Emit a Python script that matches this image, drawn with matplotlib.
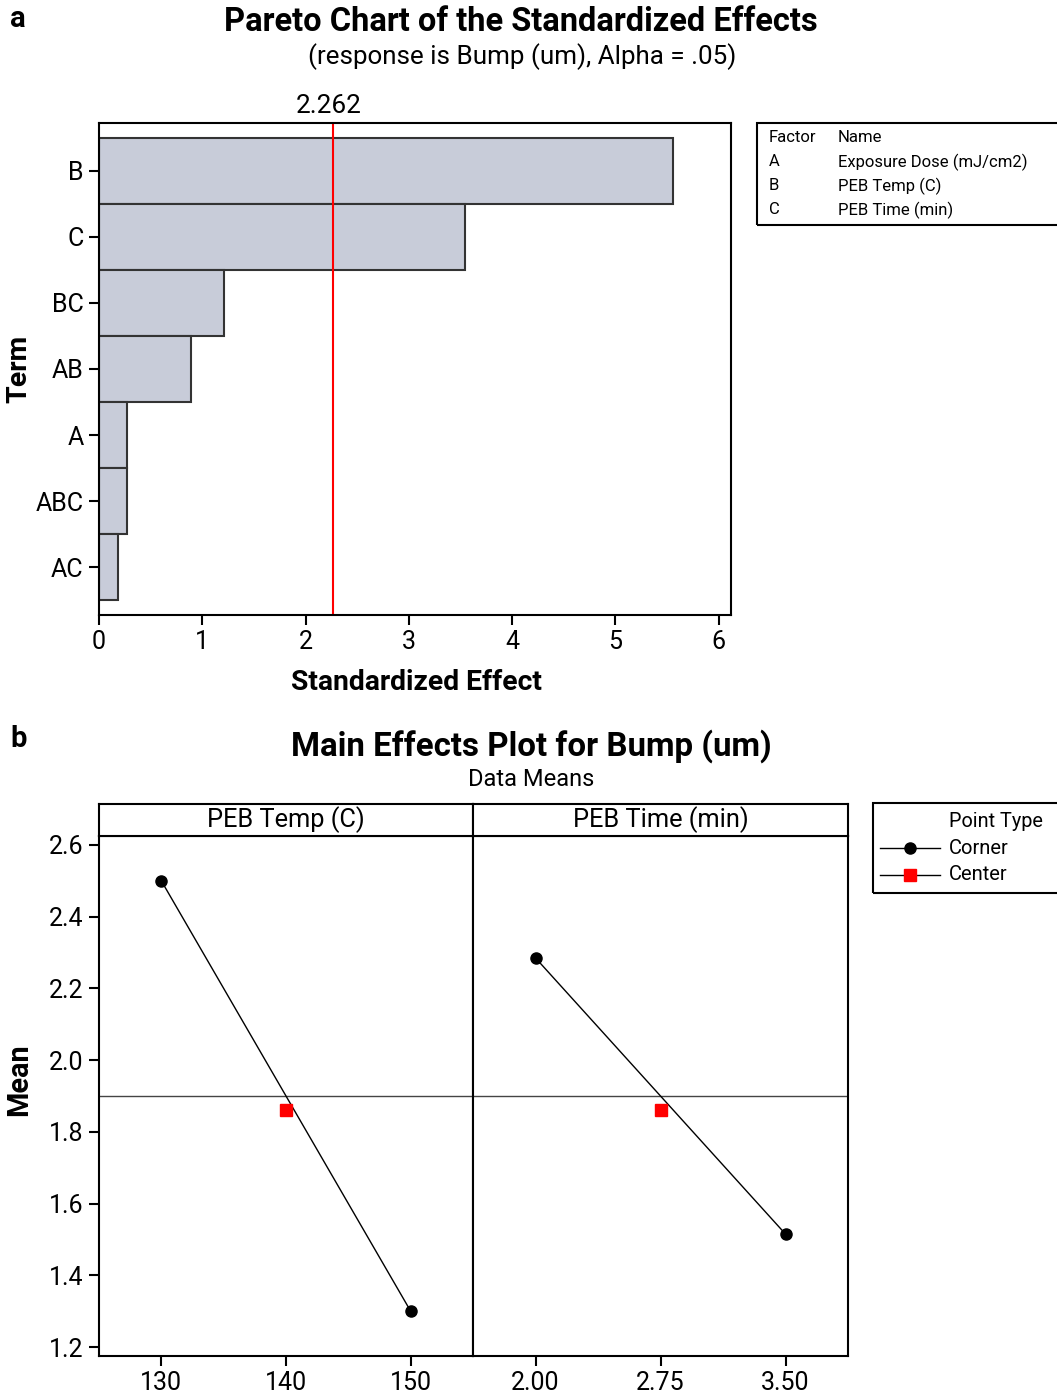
import matplotlib
matplotlib.use("Agg")
import matplotlib.pyplot as plt
from matplotlib.patches import Rectangle
from matplotlib.lines import Line2D

plt.rcParams['font.family'] = ['Roboto', 'DejaVu Sans']

# pareto data
terms = ['B', 'C', 'BC', 'AB', 'A', 'ABC', 'AC']
effects = [5.56, 3.54, 1.21, 0.89, 0.27, 0.27, 0.18]
t_crit = 2.262
factors = ['A', 'B', 'C']
factor_names = ['Exposure Dose (mJ/cm2)', 'PEB Temp (C)', 'PEB Time (min)']

# main effects data
temp_levels = [130, 150]
temp_means = [2.50, 1.30]
time_levels = [2.00, 3.50]
time_means = [2.285, 1.515]
temp_center = [140]
time_center = [2.75]
center_mean = [1.86]
grand_mean = 1.90

W, H = 1057, 1395
fig = plt.figure(figsize=(W / 100, H / 100), dpi=100)


def box(l, t, r, b):
    return [l / W, 1 - b / H, (r - l) / W, (b - t) / H]


def fx(x):
    return x / W


def fy(y):
    return 1 - y / H


TICK = 18

# ---- panel a ----
fig.text(fx(10), fy(19), 'a', fontsize=21, fontweight='bold', va='center')
fig.text(fx(521), fy(22), 'Pareto Chart of the Standardized Effects',
         fontsize=23.5, fontweight='bold', ha='center', va='center')
fig.text(fx(522), fy(57), '(response is Bump (um), Alpha = .05)',
         fontsize=18.7, ha='center', va='center')

ax = fig.add_axes(box(99, 123, 731, 615))
ax.barh(range(len(terms)), effects, height=1.0, color='#c8ccd9',
        edgecolor='#333333', linewidth=1.5)
ax.axvline(t_crit, color='red', lw=1.5)
ax.set_xlim(0, 6.12)
ax.set_ylim(len(terms) - 0.273, -0.727)
ax.set_yticks(range(len(terms)))
ax.set_yticklabels(terms)
ax.set_xticks(range(7))
ax.tick_params(direction='out', length=7, width=1.5, labelsize=TICK, pad=4)
ax.text(t_crit - 0.04, 1.01, '%.3f' % t_crit, transform=ax.get_xaxis_transform(),
        ha='center', va='bottom', fontsize=18.8)
for s in ax.spines.values():
    s.set_linewidth(1.5)
fig.text(fx(416), fy(683), 'Standardized Effect', fontsize=20.3, fontweight='bold',
         ha='center', va='center')
fig.text(fx(19), fy(369), 'Term', fontsize=20.5, fontweight='bold',
         ha='center', va='center', rotation=90)

# factor table
fig.patches.append(Rectangle((fx(757), fy(225)), fx(1080) - fx(757), fy(123) - fy(225),
                             transform=fig.transFigure, fill=False,
                             edgecolor='black', lw=1.5))
fig.text(fx(769), fy(138), 'Factor', fontsize=12, va='center')
fig.text(fx(838), fy(138), 'Name', fontsize=12, va='center')
for i, (f, n) in enumerate(zip(factors, factor_names)):
    fig.text(fx(769), fy(162 + 24 * i), f, fontsize=12, va='center')
    fig.text(fx(838), fy(162 + 24 * i), n, fontsize=12, va='center')

# ---- panel b ----
fig.text(fx(10), fy(739), 'b', fontsize=21, fontweight='bold', va='center')
fig.text(fx(531), fy(746), 'Main Effects Plot for Bump (um)',
         fontsize=23.8, fontweight='bold', ha='center', va='center')
fig.text(fx(531), fy(780), 'Data Means', fontsize=17, ha='center', va='center')

axL = fig.add_axes(box(99, 836, 473, 1356))
axR = fig.add_axes(box(473, 836, 848, 1356))

axL.plot(temp_levels, temp_means, color='black', lw=1, marker='o', ms=8)
axL.plot(temp_center, center_mean, 's', color='red', ms=9, zorder=3)
axR.plot(time_levels, time_means, color='black', lw=1, marker='o', ms=8)
axR.plot(time_center, center_mean, 's', color='red', ms=9, zorder=3)

for a in (axL, axR):
    a.axhline(grand_mean, color='#444444', lw=1, zorder=1)
    a.set_ylim(1.175, 2.625)
    for s in a.spines.values():
        s.set_linewidth(1.5)
    a.tick_params(direction='out', length=7, width=1.5, labelsize=TICK, pad=4)

axL.set_xlim(125, 155)
axL.set_xticks(temp_levels[:1] + temp_center + temp_levels[1:])
axL.set_yticks([1.2, 1.4, 1.6, 1.8, 2.0, 2.2, 2.4, 2.6])
axL.set_yticklabels(['1.2', '1.4', '1.6', '1.8', '2.0', '2.2', '2.4', '2.6'])
fig.text(fx(19), fy(1080), 'Mean', fontsize=20.8, fontweight='bold',
         ha='center', va='center', rotation=90)

axR.set_xlim(1.625, 3.875)
axR.set_xticks([2.00, 2.75, 3.50])
axR.set_xticklabels(['2.00', '2.75', '3.50'])
axR.set_yticks([])

for rect, label in [((99, 804, 473, 836), 'PEB Temp (C)'),
                    ((473, 804, 848, 836), 'PEB Time (min)')]:
    st = fig.add_axes(box(*rect))
    st.set_xticks([])
    st.set_yticks([])
    for s in st.spines.values():
        s.set_linewidth(1.5)
    st.text(0.5, 0.5, label, ha='center', va='center', fontsize=18.3,
            transform=st.transAxes)

# point type legend
fig.patches.append(Rectangle((fx(873), fy(893)), fx(1080) - fx(873), fy(803) - fy(893),
                             transform=fig.transFigure, fill=False,
                             edgecolor='black', lw=1.5))
fig.text(fx(949), fy(821), 'Point Type', fontsize=14.3, va='center')
for yy, mk, col, lab in [(848, 'o', 'black', 'Corner'), (875, 's', 'red', 'Center')]:
    fig.lines.append(Line2D([fx(880), fx(940)], [fy(yy), fy(yy)],
                            transform=fig.transFigure, color='black', lw=1))
    fig.lines.append(Line2D([fx(910)], [fy(yy)], transform=fig.transFigure,
                            marker=mk, color=col, ms=8 if mk == 'o' else 9))
    fig.text(fx(949), fy(yy), lab, fontsize=14.5, va='center')

fig.savefig('out.png', dpi=100)
